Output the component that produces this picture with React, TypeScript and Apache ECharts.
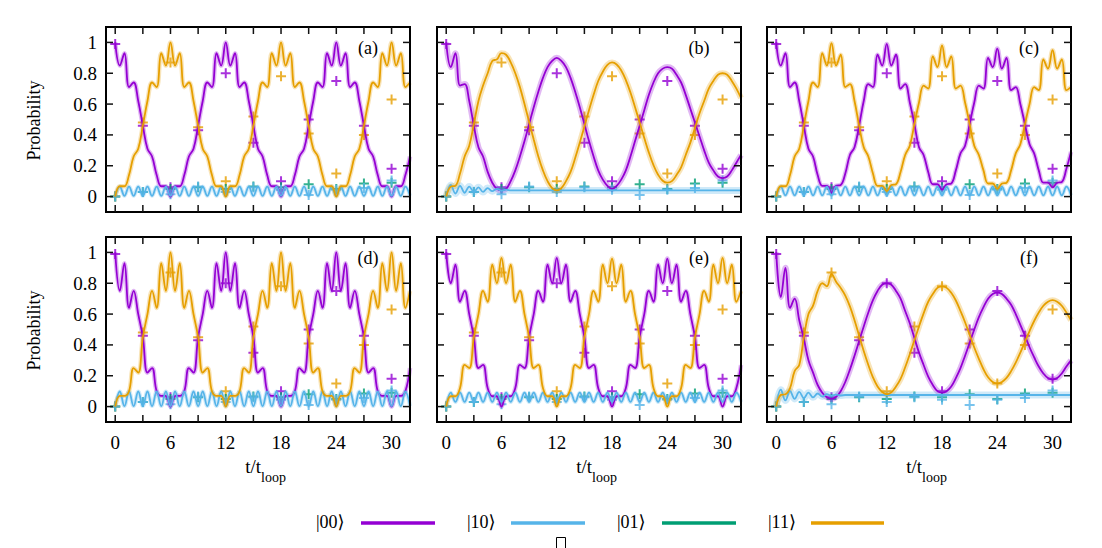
import React, { useEffect, useRef } from "react";
import * as echarts from "echarts";

// time samples (t / t_loop)
const T = [0, 0.5, 1, 1.5, 2, 2.5, 3, 3.5, 4, 4.5, 5, 5.5, 6, 6.5, 7, 7.5, 8, 8.5, 9, 9.5, 10, 10.5, 11, 11.5, 12,
  12.5, 13, 13.5, 14, 14.5, 15, 15.5, 16, 16.5, 17, 17.5, 18, 18.5, 19, 19.5, 20, 20.5, 21, 21.5, 22, 22.5, 23, 23.5, 24,
  24.5, 25, 25.5, 26, 26.5, 27, 27.5, 28, 28.5, 29, 29.5, 30, 30.5, 31, 31.5, 32];

// panel (a)
const PA = [1.0, 0.85, 0.93, 0.71, 0.74, 0.62, 0.46, 0.31, 0.26, 0.14, 0.067, 0.067, 0.0,
  0.067, 0.067, 0.14, 0.26, 0.31, 0.46, 0.62, 0.74, 0.71, 0.93, 0.85, 1.0,
  0.85, 0.93, 0.71, 0.74, 0.62, 0.46, 0.31, 0.26, 0.14, 0.067, 0.067, 0.0,
  0.067, 0.067, 0.14, 0.26, 0.31, 0.46, 0.62, 0.74, 0.71, 0.93, 0.85, 1.0,
  0.85, 0.93, 0.71, 0.74, 0.62, 0.46, 0.31, 0.26, 0.14, 0.067, 0.067, 0.0,
  0.067, 0.067, 0.14, 0.26];
const OA = [0.0, 0.067, 0.067, 0.14, 0.26, 0.31, 0.46, 0.62, 0.74, 0.71, 0.93, 0.85, 1.0,
  0.85, 0.93, 0.71, 0.74, 0.62, 0.46, 0.31, 0.26, 0.14, 0.067, 0.067, 0.0,
  0.067, 0.067, 0.14, 0.26, 0.31, 0.46, 0.62, 0.74, 0.71, 0.93, 0.85, 1.0,
  0.85, 0.93, 0.71, 0.74, 0.62, 0.46, 0.31, 0.26, 0.14, 0.067, 0.067, 0.0,
  0.067, 0.067, 0.14, 0.26, 0.31, 0.46, 0.62, 0.74, 0.71, 0.93, 0.85, 1.0,
  0.85, 0.93, 0.71, 0.74];
const BA = [0, 0.065, 0.005, 0.065, 0.005, 0.065, 0.005, 0.065, 0.005, 0.065, 0.005, 0.065, 0.005, 0.065, 0.005, 0.065, 0.005,
  0.065, 0.005, 0.065, 0.005, 0.065, 0.005, 0.065, 0.005, 0.065, 0.005, 0.065, 0.005, 0.065, 0.005, 0.065, 0.005,
  0.065, 0.005, 0.065, 0.005, 0.065, 0.005, 0.065, 0.005, 0.065, 0.005, 0.065, 0.005, 0.065, 0.005, 0.065, 0.005,
  0.065, 0.005, 0.065, 0.005, 0.065, 0.005, 0.065, 0.005, 0.065, 0.005, 0.065, 0.005, 0.065, 0.005, 0.065, 0.005];

// panel (b)
const PB = [1.0, 0.84, 0.93, 0.72, 0.73, 0.62, 0.46, 0.32, 0.26, 0.16, 0.09, 0.05, 0.04,
  0.05, 0.10, 0.17, 0.26, 0.36, 0.47, 0.58, 0.68, 0.77, 0.84, 0.88, 0.90,
  0.88, 0.84, 0.77, 0.68, 0.58, 0.47, 0.36, 0.26, 0.17, 0.11, 0.07, 0.05,
  0.07, 0.11, 0.17, 0.26, 0.36, 0.46, 0.56, 0.66, 0.74, 0.80, 0.83, 0.84,
  0.83, 0.79, 0.74, 0.66, 0.57, 0.48, 0.39, 0.30, 0.22, 0.17, 0.13, 0.12,
  0.13, 0.17, 0.22, 0.27];
const OB = [0.0, 0.065, 0.07, 0.15, 0.26, 0.33, 0.47, 0.62, 0.72, 0.80, 0.88, 0.89, 0.93,
  0.92, 0.87, 0.80, 0.71, 0.60, 0.485, 0.37, 0.26, 0.17, 0.10, 0.055, 0.04,
  0.055, 0.10, 0.16, 0.25, 0.35, 0.455, 0.56, 0.66, 0.75, 0.81, 0.855, 0.87,
  0.857, 0.818, 0.756, 0.675, 0.58, 0.48, 0.38, 0.285, 0.204, 0.142, 0.103, 0.09,
  0.10, 0.14, 0.19, 0.27, 0.35, 0.445, 0.54, 0.62, 0.70, 0.75, 0.79, 0.80,
  0.79, 0.75, 0.70, 0.64];
const BB = [0, 0.075, 0.02, 0.07, 0.025, 0.065, 0.03, 0.06, 0.03, 0.055, 0.035, 0.05, 0.038, 0.045, 0.04,
  0.04, 0.04, 0.04, 0.04, 0.04, 0.04, 0.04, 0.04, 0.04, 0.04, 0.04, 0.04, 0.04, 0.04, 0.04, 0.04, 0.04, 0.04, 0.04, 0.04,
  0.04, 0.04, 0.04, 0.04, 0.04, 0.04, 0.04, 0.04, 0.04, 0.04, 0.04, 0.04, 0.04, 0.04, 0.04, 0.04, 0.04, 0.04, 0.04, 0.04,
  0.04, 0.04, 0.04, 0.04, 0.04, 0.04, 0.04, 0.04, 0.04, 0.04];

// panel (c)
const PC = [1.0, 0.85, 0.93, 0.71, 0.74, 0.62, 0.46, 0.31, 0.26, 0.14, 0.07, 0.07, 0.025,
  0.07, 0.075, 0.15, 0.27, 0.32, 0.46, 0.62, 0.73, 0.71, 0.92, 0.85, 0.99,
  0.85, 0.92, 0.70, 0.73, 0.61, 0.47, 0.32, 0.27, 0.16, 0.08, 0.08, 0.045,
  0.08, 0.085, 0.17, 0.28, 0.33, 0.47, 0.61, 0.72, 0.70, 0.90, 0.84, 0.96,
  0.83, 0.90, 0.69, 0.71, 0.60, 0.47, 0.34, 0.28, 0.17, 0.09, 0.09, 0.06,
  0.09, 0.095, 0.18, 0.29];
const OC = [0.0, 0.067, 0.067, 0.14, 0.26, 0.31, 0.46, 0.62, 0.74, 0.71, 0.93, 0.85, 0.995,
  0.85, 0.92, 0.71, 0.73, 0.62, 0.46, 0.32, 0.26, 0.15, 0.07, 0.07, 0.035,
  0.075, 0.08, 0.16, 0.27, 0.33, 0.47, 0.61, 0.72, 0.70, 0.91, 0.84, 0.98,
  0.84, 0.91, 0.70, 0.72, 0.61, 0.47, 0.33, 0.27, 0.17, 0.085, 0.085, 0.05,
  0.085, 0.09, 0.17, 0.28, 0.34, 0.47, 0.60, 0.71, 0.69, 0.89, 0.83, 0.95,
  0.83, 0.89, 0.69, 0.71];
const BC = [0, 0.065, 0.008, 0.065, 0.008, 0.065, 0.008, 0.065, 0.008, 0.065, 0.008, 0.065, 0.008, 0.065, 0.008, 0.065, 0.008,
  0.065, 0.008, 0.065, 0.008, 0.065, 0.008, 0.065, 0.008, 0.065, 0.008, 0.065, 0.008, 0.065, 0.008, 0.065, 0.008,
  0.065, 0.008, 0.065, 0.008, 0.065, 0.008, 0.065, 0.008, 0.065, 0.008, 0.065, 0.008, 0.065, 0.008, 0.065, 0.008,
  0.065, 0.008, 0.065, 0.008, 0.065, 0.008, 0.065, 0.008, 0.065, 0.008, 0.065, 0.008, 0.065, 0.008, 0.065, 0.008];

// panel (d)
const PD = [1.0, 0.75, 0.93, 0.64, 0.75, 0.60, 0.45, 0.22, 0.25, 0.10, 0.07, 0.07, 0.0,
  0.07, 0.07, 0.10, 0.25, 0.22, 0.45, 0.60, 0.75, 0.64, 0.93, 0.75, 1.0,
  0.75, 0.93, 0.64, 0.75, 0.60, 0.45, 0.22, 0.25, 0.10, 0.07, 0.07, 0.0,
  0.07, 0.07, 0.10, 0.25, 0.22, 0.45, 0.60, 0.75, 0.64, 0.93, 0.75, 1.0,
  0.75, 0.93, 0.64, 0.75, 0.60, 0.45, 0.22, 0.25, 0.10, 0.07, 0.07, 0.0,
  0.07, 0.07, 0.10, 0.25];
const OD = [0.0, 0.07, 0.07, 0.10, 0.25, 0.22, 0.45, 0.60, 0.75, 0.64, 0.93, 0.75, 1.0,
  0.75, 0.93, 0.64, 0.75, 0.60, 0.45, 0.22, 0.25, 0.10, 0.07, 0.07, 0.0,
  0.07, 0.07, 0.10, 0.25, 0.22, 0.45, 0.60, 0.75, 0.64, 0.93, 0.75, 1.0,
  0.75, 0.93, 0.64, 0.75, 0.60, 0.45, 0.22, 0.25, 0.10, 0.07, 0.07, 0.0,
  0.07, 0.07, 0.10, 0.25, 0.22, 0.45, 0.60, 0.75, 0.64, 0.93, 0.75, 1.0,
  0.75, 0.93, 0.64, 0.75];
const BD = [0, 0.098, 0.003, 0.098, 0.003, 0.098, 0.003, 0.098, 0.003, 0.098, 0.003, 0.098, 0.003, 0.098, 0.003, 0.098, 0.003,
  0.098, 0.003, 0.098, 0.003, 0.098, 0.003, 0.098, 0.003, 0.098, 0.003, 0.098, 0.003, 0.098, 0.003, 0.098, 0.003,
  0.098, 0.003, 0.098, 0.003, 0.098, 0.003, 0.098, 0.003, 0.098, 0.003, 0.098, 0.003, 0.098, 0.003, 0.098, 0.003,
  0.098, 0.003, 0.098, 0.003, 0.098, 0.003, 0.098, 0.003, 0.098, 0.003, 0.098, 0.003, 0.098, 0.003, 0.098, 0.003];

// panel (e)
const PE = [1.0, 0.80, 0.92, 0.68, 0.75, 0.60, 0.45, 0.25, 0.27, 0.12, 0.067, 0.067, 0.0,
  0.067, 0.067, 0.12, 0.27, 0.25, 0.45, 0.60, 0.75, 0.68, 0.92, 0.80, 0.965,
  0.80, 0.92, 0.68, 0.75, 0.60, 0.45, 0.25, 0.27, 0.12, 0.067, 0.067, 0.0,
  0.067, 0.067, 0.12, 0.27, 0.25, 0.45, 0.60, 0.75, 0.68, 0.92, 0.80, 0.96,
  0.80, 0.92, 0.68, 0.75, 0.60, 0.45, 0.25, 0.27, 0.12, 0.067, 0.067, 0.0,
  0.067, 0.067, 0.12, 0.27];
const OE = [0.0, 0.067, 0.067, 0.12, 0.27, 0.25, 0.45, 0.60, 0.75, 0.68, 0.92, 0.80, 0.965,
  0.80, 0.92, 0.68, 0.75, 0.60, 0.45, 0.25, 0.27, 0.12, 0.067, 0.067, 0.0,
  0.067, 0.067, 0.12, 0.27, 0.25, 0.45, 0.60, 0.75, 0.68, 0.92, 0.80, 0.96,
  0.80, 0.92, 0.68, 0.75, 0.60, 0.45, 0.25, 0.27, 0.12, 0.067, 0.067, 0.0,
  0.067, 0.067, 0.12, 0.27, 0.25, 0.45, 0.60, 0.75, 0.68, 0.92, 0.80, 0.965,
  0.80, 0.92, 0.68, 0.75];
const BE = [0, 0.09, 0.03, 0.09, 0.03, 0.09, 0.03, 0.09, 0.03, 0.09, 0.03, 0.09, 0.03, 0.09, 0.03, 0.09, 0.03,
  0.09, 0.03, 0.09, 0.03, 0.09, 0.03, 0.09, 0.03, 0.09, 0.03, 0.09, 0.03, 0.09, 0.03, 0.09, 0.03,
  0.09, 0.03, 0.09, 0.03, 0.09, 0.03, 0.09, 0.03, 0.09, 0.03, 0.09, 0.03, 0.09, 0.03, 0.09, 0.03,
  0.09, 0.03, 0.09, 0.03, 0.09, 0.03, 0.09, 0.03, 0.09, 0.03, 0.09, 0.03, 0.09, 0.03, 0.09, 0.03];

// panel (f)
const PF = [1.0, 0.71, 0.90, 0.64, 0.70, 0.56, 0.44, 0.30, 0.22, 0.14, 0.09, 0.06, 0.05,
  0.063, 0.10, 0.16, 0.24, 0.33, 0.425, 0.52, 0.61, 0.69, 0.75, 0.79, 0.80,
  0.79, 0.75, 0.70, 0.62, 0.54, 0.445, 0.35, 0.27, 0.195, 0.14, 0.10, 0.09,
  0.10, 0.13, 0.185, 0.25, 0.33, 0.415, 0.50, 0.58, 0.645, 0.70, 0.73, 0.74,
  0.73, 0.70, 0.66, 0.60, 0.53, 0.46, 0.385, 0.32, 0.26, 0.215, 0.185, 0.175,
  0.185, 0.215, 0.26, 0.30];
const OF = [0.0, 0.076, 0.08, 0.12, 0.23, 0.27, 0.45, 0.60, 0.655, 0.75, 0.80, 0.78, 0.86,
  0.81, 0.77, 0.72, 0.65, 0.56, 0.46, 0.36, 0.27, 0.19, 0.13, 0.095, 0.08,
  0.092, 0.13, 0.18, 0.255, 0.34, 0.43, 0.52, 0.605, 0.68, 0.73, 0.77, 0.78,
  0.77, 0.738, 0.688, 0.62, 0.547, 0.465, 0.383, 0.31, 0.242, 0.19, 0.16, 0.15,
  0.16, 0.186, 0.23, 0.285, 0.35, 0.42, 0.49, 0.555, 0.61, 0.654, 0.68, 0.69,
  0.68, 0.654, 0.61, 0.56];
const BF = [0, 0.11, 0.04, 0.10, 0.05, 0.095, 0.055, 0.09, 0.06, 0.085, 0.065, 0.08, 0.07, 0.078, 0.072,
  0.075, 0.075, 0.075, 0.075, 0.075, 0.075, 0.075, 0.075, 0.075, 0.075, 0.075, 0.075, 0.075, 0.075, 0.075, 0.075, 0.075, 0.075, 0.075, 0.075,
  0.075, 0.075, 0.075, 0.075, 0.075, 0.075, 0.075, 0.075, 0.075, 0.075, 0.075, 0.075, 0.075, 0.075, 0.075, 0.075, 0.075, 0.075, 0.075, 0.075,
  0.075, 0.075, 0.075, 0.075, 0.075, 0.075, 0.075, 0.075, 0.075, 0.075];

// experimental points
const TE = [0, 3, 6, 9, 12, 15, 18, 21, 24, 27, 30];
const E00 = [0.99, 0.46, 0.06, 0.43, 0.80, 0.35, 0.10, 0.50, 0.75, 0.46, 0.18];
const E11 = [0.0, 0.48, 0.87, 0.45, 0.10, 0.52, 0.78, 0.41, 0.15, 0.40, 0.63];
const E01 = [0.0, 0.03, 0.05, 0.06, 0.05, 0.065, 0.06, 0.08, 0.05, 0.085, 0.09];
const E10 = [0.0, 0.03, 0.015, 0.065, 0.03, 0.06, 0.045, 0.01, 0.045, 0.055, 0.105];

// axes
const X_TICKS = [0, 3, 6, 9, 12, 15, 18, 21, 24, 27, 30];
const X_LABELS = [0, 6, 12, 18, 24, 30];
const Y_TICKS = [0, 0.2, 0.4, 0.6, 0.8, 1];
const PANEL_NAMES = ["(a)", "(b)", "(c)", "(d)", "(e)", "(f)"];
const LEGEND_NAMES = ["|00\u27E9", "|10\u27E9", "|01\u27E9", "|11\u27E9"];

const C00 = "#9400D3";
const C10 = "#56B4E9";
const C01 = "#009E73";
const C11 = "#E69F00";
const FONT = "'Liberation Serif', 'DejaVu Serif', serif";
const PLUS = "path://M4,0h2v4h4v2h-4v4h-2v-4h-4v-2h4z";
const TICK_LEN = 7;

const PANELS = [
  { P: PA, O: OA, B: BA, row: 0, col: 0 },
  { P: PB, O: OB, B: BB, row: 0, col: 1 },
  { P: PC, O: OC, B: BC, row: 0, col: 2 },
  { P: PD, O: OD, B: BD, row: 1, col: 0 },
  { P: PE, O: OE, B: BE, row: 1, col: 1 },
  { P: PF, O: OF, B: BF, row: 1, col: 2 },
];

const LEFTS = [106, 437, 767];
const TOPS = [27, 237];
const GW = 304;
const GH = 185;

// draws gnuplot-style inward ticks on all four sides from the axis scales
function renderTicks(params: any, api: any) {
  const cs = params.coordSys;
  const kind = api.value(2);
  const style = { stroke: "#111", lineWidth: 1.5 };
  if (kind === 0) {
    const px = api.coord([api.value(0), 0])[0];
    const yb = cs.y + cs.height;
    return {
      type: "group",
      children: [
        { type: "line", shape: { x1: px, y1: yb, x2: px, y2: yb - TICK_LEN }, style },
        { type: "line", shape: { x1: px, y1: cs.y, x2: px, y2: cs.y + TICK_LEN }, style },
      ],
    };
  }
  const py = api.coord([0, api.value(1)])[1];
  const xr = cs.x + cs.width;
  return {
    type: "group",
    children: [
      { type: "line", shape: { x1: cs.x, y1: py, x2: cs.x + TICK_LEN, y2: py }, style },
      { type: "line", shape: { x1: xr, y1: py, x2: xr - TICK_LEN, y2: py }, style },
    ],
  };
}

function buildOption() {
  const grid: any[] = [];
  const xAxis: any[] = [];
  const yAxis: any[] = [];
  const series: any[] = [];
  const graphic: any[] = [];

  PANELS.forEach((p, i) => {
    const left = LEFTS[p.col];
    const top = TOPS[p.row];
    grid.push({ left, top, width: GW, height: GH, show: true, borderColor: "#000", borderWidth: 2, backgroundColor: "rgba(0,0,0,0)", z: 4 });
    xAxis.push({
      gridIndex: i, type: "value", min: -1, max: 32, position: "bottom",
      axisLine: { show: false, onZero: false }, splitLine: { show: false }, axisTick: { show: false },
      axisLabel: { show: p.row === 1, customValues: X_LABELS, color: "#000", fontSize: 19, fontFamily: FONT, margin: 11 },
    });
    yAxis.push({
      gridIndex: i, type: "value", min: -0.1, max: 1.1, position: "left",
      axisLine: { show: false, onZero: false }, splitLine: { show: false }, axisTick: { show: false },
      axisLabel: {
        show: p.col === 0, customValues: Y_TICKS, color: "#000", fontSize: 19, fontFamily: FONT, margin: 9,
        formatter: (v: number) => String(Math.round(v * 10) / 10),
      },
    });

    const mk = (arr: number[]) => T.map((t, k) => [t, arr[k]]);
    const wide = (p.row === 0 && p.col === 1) || (p.row === 1 && p.col === 2);
    const base = { xAxisIndex: i, yAxisIndex: i, silent: true };
    series.push({
      ...base, type: "custom", renderItem: renderTicks, clip: false, z: 5,
      data: X_TICKS.map((v) => [v, 0, 0]).concat(Y_TICKS.map((v) => [0, v, 1])),
    });
    const halo = (arr: number[], color: string, w: number) => ({
      ...base, type: "line", data: mk(arr), showSymbol: false, smooth: 0.4,
      lineStyle: { color, width: w, opacity: 0.28 },
    });
    const line = (arr: number[], color: string) => ({
      ...base, type: "line", data: mk(arr), showSymbol: false, smooth: 0.4,
      lineStyle: { color, width: 1.8 },
    });
    series.push(halo(p.P, C00, wide ? 6 : 4.5));
    series.push(halo(p.B, C10, wide ? 7 : 4));
    series.push(halo(p.O, C11, wide ? 6 : 4.5));
    series.push(line(p.P, C00));
    series.push(line(p.B, C10));
    series.push(line(p.O, C11));
    const pts = (arr: number[], color: string) => ({
      ...base, type: "scatter", data: TE.map((t, k) => [t, arr[k]]),
      symbol: PLUS, symbolSize: 10, itemStyle: { color },
    });
    series.push(pts(E00, C00));
    series.push(pts(E11, C11));
    series.push(pts(E01, C01));
    series.push(pts(E10, C10));

    graphic.push({
      type: "text", x: left + GW - 42, y: top + 21,
      style: { text: PANEL_NAMES[i], fontSize: 18, fontFamily: FONT, fill: "#000", align: "center", verticalAlign: "middle" },
    });
    if (p.col === 0) {
      graphic.push({
        type: "text", x: 34, y: top + GH / 2 + 1, rotation: Math.PI / 2,
        style: { text: "Probability", fontSize: 18, fontFamily: FONT, fill: "#000", align: "center", verticalAlign: "middle" },
      });
    }
    if (p.row === 1) {
      const cx = left + GW / 2 + 3;
      graphic.push({
        type: "text", x: cx, y: 466,
        style: { text: "t/t", fontSize: 19, fontFamily: FONT, fill: "#000", align: "right", verticalAlign: "middle" },
      });
      graphic.push({
        type: "text", x: cx, y: 477,
        style: { text: "loop", fontSize: 14, fontFamily: FONT, fill: "#000", align: "left", verticalAlign: "middle" },
      });
    }
  });

  // legend
  const legendText = [316, 467, 617, 768];
  const legendLine = [[361, 435], [511, 585], [662, 736], [811, 884]];
  const legendColors = [C00, C10, C01, C11];
  LEGEND_NAMES.forEach((name, k) => {
    graphic.push({
      type: "text", x: legendText[k], y: 522,
      style: { text: name, fontSize: 18, fontFamily: FONT, fill: "#000", align: "left", verticalAlign: "middle" },
    });
    graphic.push({
      type: "line", shape: { x1: legendLine[k][0], y1: 523, x2: legendLine[k][1], y2: 523 },
      style: { stroke: legendColors[k], lineWidth: 3.5 },
    });
  });
  graphic.push({
    type: "rect", shape: { x: 556.5, y: 537.5, width: 9, height: 14 },
    style: { fill: "none", stroke: "#000", lineWidth: 1 },
  });

  return { animation: false, backgroundColor: "#fff", grid, xAxis, yAxis, series, graphic };
}

export default function App() {
  const ref = useRef<HTMLDivElement>(null);
  useEffect(() => {
    if (!ref.current) return;
    const chart = echarts.init(ref.current, null, { renderer: "svg", width: 1102, height: 548 });
    chart.setOption(buildOption() as any);
    return () => chart.dispose();
  }, []);
  return <div ref={ref} style={{ position: "absolute", left: 0, top: 0, width: 1102, height: 548, background: "#fff" }} />;
}
